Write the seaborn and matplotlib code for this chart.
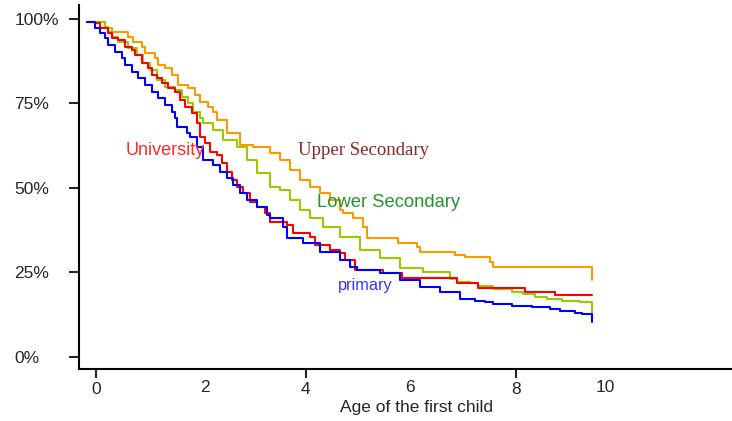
import matplotlib
matplotlib.use("Agg")
import matplotlib.pyplot as plt
import seaborn as sns
import pandas as pd

# ---- data (age, % still without first child) ----
upper_x = [-0.17, 0.18, 0.23, 0.62, 0.71, 0.88, 0.94, 1.13, 1.19, 1.32, 1.45, 1.57, 1.76, 1.89, 1.99, 2.14,
           2.23, 2.31, 2.50, 2.75, 3.00, 3.32, 3.51, 3.70, 3.89, 4.08, 4.27, 4.46, 4.65, 4.71, 4.90, 5.09,
           5.17, 5.76, 6.12, 6.18, 6.85, 7.03, 7.51, 7.57, 9.45, 9.45]
upper_y = [99.1, 97.6, 96.2, 94.6, 93.2, 91.6, 89.9, 88.5, 86.4, 85.5, 83.4, 80.5, 79.6, 77.5, 75.4, 73.9,
           72.5, 70.1, 66.3, 62.7, 62.1, 60.4, 58.2, 55.3, 52.3, 50.3, 48.5, 46.4, 43.4, 42.6, 41.1, 38.4,
           35.2, 33.7, 32.5, 31.0, 30.1, 29.6, 28.0, 26.6, 26.6, 22.7]

lower_x = [-0.17, 0.18, 0.31, 0.42, 0.62, 0.79, 0.90, 1.03, 1.17, 1.32, 1.51, 1.64, 1.76, 1.85, 1.99, 2.04,
           2.23, 2.42, 2.69, 2.88, 3.07, 3.32, 3.51, 3.70, 3.89, 4.08, 4.33, 4.65, 5.03, 5.42, 5.80, 6.23,
           6.75, 6.88, 7.13, 7.28, 7.57, 7.93, 8.14, 8.37, 8.60, 8.88, 9.23, 9.45, 9.45]
lower_y = [99.1, 97.3, 94.6, 93.2, 91.4, 89.3, 87.0, 84.9, 81.9, 79.9, 79.0, 76.9, 75.1, 72.5, 70.7, 69.2,
           67.1, 64.2, 62.1, 58.2, 54.4, 50.3, 49.4, 46.4, 43.4, 41.1, 38.4, 35.4, 31.6, 29.3, 26.3, 25.1,
           23.0, 22.1, 21.8, 20.9, 20.0, 19.2, 18.6, 17.7, 17.1, 16.5, 16.2, 16.2, 11.8]

univ_x = [-0.17, -0.01, 0.08, 0.23, 0.31, 0.42, 0.56, 0.69, 0.75, 0.88, 1.00, 1.07, 1.17, 1.26, 1.38, 1.51,
          1.61, 1.70, 1.83, 1.93, 1.99, 2.08, 2.18, 2.31, 2.41, 2.50, 2.60, 2.69, 2.80, 2.94, 3.07, 3.22,
          3.32, 3.64, 3.76, 4.08, 4.18, 4.46, 4.65, 4.75, 4.94, 5.47, 5.83, 6.88, 7.28, 8.18, 8.75, 9.45]
univ_y = [99.1, 98.8, 97.3, 95.8, 94.3, 93.8, 91.6, 90.8, 89.3, 87.0, 85.5, 83.4, 82.5, 81.0, 79.6, 78.4,
          76.0, 73.9, 72.2, 69.2, 65.1, 63.3, 60.6, 59.7, 57.3, 54.7, 52.3, 50.3, 48.5, 45.8, 44.3, 42.6,
          39.9, 39.0, 36.6, 35.4, 33.1, 31.6, 30.7, 28.6, 25.7, 24.8, 23.3, 21.8, 20.3, 19.2, 18.3, 18.3]

prim_x = [-0.17, -0.01, 0.08, 0.18, 0.23, 0.37, 0.50, 0.56, 0.69, 0.81, 0.94, 1.07, 1.19, 1.32, 1.45, 1.51,
          1.55, 1.74, 1.80, 1.93, 2.04, 2.23, 2.37, 2.50, 2.61, 2.75, 2.88, 3.07, 3.26, 3.32, 3.57, 3.64,
          3.95, 4.27, 4.65, 4.84, 4.98, 5.42, 5.80, 6.18, 6.56, 6.94, 7.22, 7.42, 7.57, 7.93, 8.31, 8.65,
          8.84, 9.13, 9.26, 9.45, 9.45]
prim_y = [99.1, 97.3, 95.8, 94.3, 92.3, 90.2, 88.5, 86.4, 84.3, 82.5, 80.5, 78.4, 76.6, 74.5, 72.5, 70.7,
          68.0, 66.3, 65.1, 62.1, 58.2, 56.8, 54.7, 52.9, 50.9, 48.5, 46.4, 44.3, 42.0, 41.1, 38.4, 35.2,
          33.7, 31.0, 28.6, 26.6, 25.7, 24.8, 22.7, 20.6, 19.2, 17.1, 16.5, 16.2, 15.6, 15.0, 14.7, 14.1,
          13.5, 12.9, 12.6, 12.6, 10.3]

groups = ["Upper Secondary", "Lower Secondary", "University", "primary"]
line_colors = ["#FF9900", "#99CC00", "#FF0000", "#0000FF"]
label_colors = ["#8B2525", "#22962A", "#FF2A2A", "#3333FF"]

y_ticks = [0, 25, 50, 75, 100]
y_ticklabels = ["0%", "25%", "50%", "75%", "100%"]
x_major = [0, 4, 8]
x_major_labels = ["0", "4", "8"]
x_minor = [2.09, 5.98, 9.71]
x_minor_labels = ["2", "6", "10"]

frames = []
for g, xs, ys in zip(groups, [upper_x, lower_x, univ_x, prim_x], [upper_y, lower_y, univ_y, prim_y]):
    frames.append(pd.DataFrame({"age": xs, "pct": ys, "group": g}))
df = pd.concat(frames, ignore_index=True)

sns.set_style("white")
plt.rcParams["font.family"] = ["Liberation Sans", "DejaVu Sans"]

fig = plt.figure(figsize=(7.32, 4.21), dpi=100)
ax = fig.add_axes([79 / 732, (421 - 369) / 421, 1 - 79 / 732, (369 - 5) / 421])

sns.lineplot(data=df, x="age", y="pct", hue="group", hue_order=groups,
             palette=dict(zip(groups, line_colors)), estimator=None, sort=False,
             drawstyle="steps-post", linewidth=1.5, legend=False, ax=ax)

ax.set_xlim(-0.318, 12.12)
ax.set_ylim(-3.64, 104.1)

for s in ["top", "right"]:
    ax.spines[s].set_visible(False)
for s in ["left", "bottom"]:
    ax.spines[s].set_linewidth(1.5)
    ax.spines[s].set_color("black")

ax.set_yticks(y_ticks)
ax.set_yticklabels(y_ticklabels, ha="left")
ax.tick_params(axis="y", length=7, width=1.5, direction="out", pad=39.5, labelsize=12.5, left=True)

ax.set_xticks(x_major)
ax.set_xticklabels(x_major_labels)
ax.set_xticks(x_minor, minor=True)
ax.set_xticklabels(x_minor_labels, minor=True)
ax.tick_params(axis="x", which="major", length=6.5, width=1.5, direction="out", pad=3, labelsize=12.5, bottom=True)
ax.tick_params(axis="x", which="minor", length=0, pad=7.7, labelsize=12.5)

ax.set_xlabel("Age of the first child", fontsize=12.5)
ax.set_ylabel("")
ax.xaxis.set_label_coords((417 - 79) / 653, -0.085)

# in-plot labels
ax.text(0.57, 61, "University", color=label_colors[2], fontsize=13, va="center", ha="left")
ax.text(3.85, 61, "Upper Secondary", color=label_colors[0], fontsize=13.5, va="center", ha="left",
        family=["Liberation Serif", "DejaVu Serif"])
ax.text(4.22, 45.7, "Lower Secondary", color=label_colors[1], fontsize=13.2, va="center", ha="left")
ax.text(4.61, 21.2, "primary", color=label_colors[3], fontsize=11.7, va="center", ha="left")

fig.savefig("out.png", dpi=100)
